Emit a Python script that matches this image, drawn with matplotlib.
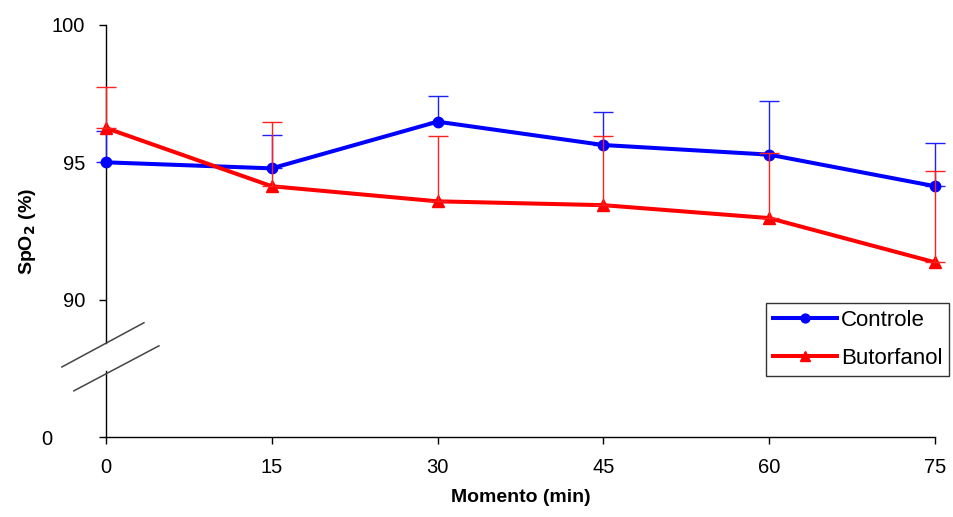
import matplotlib
matplotlib.use("Agg")
import matplotlib.pyplot as plt
import numpy as np

plt.rcParams['font.family'] = ['Liberation Sans', 'DejaVu Sans']

# data (SpO2 %, mean and upper SD)
momento = [0, 15, 30, 45, 60, 75]
controle = [95.0, 94.78, 96.48, 95.63, 95.28, 94.13]
controle_dp = [1.15, 1.2, 0.95, 1.2, 1.95, 1.57]
butorfanol = [96.25, 94.13, 93.58, 93.44, 92.97, 91.36]
butorfanol_dp = [1.48, 2.32, 2.39, 2.53, 2.37, 3.31]

ytick_vals = [85, 90, 95, 100]   # 85 is drawn where the broken axis shows 0
ytick_labels = ["", "90", "95", "100"]

fig = plt.figure(figsize=(9.54, 5.17), dpi=100)
ax = fig.add_axes([0.111, 0.1547, 0.869, 0.797])

# Controle
ax.errorbar(momento, controle, yerr=[np.zeros(len(controle_dp)), controle_dp],
            fmt='none', ecolor='#2020ff', elinewidth=1, capsize=7, capthick=1, zorder=2)
ax.plot(momento, controle, color='#0000ff', lw=2.9, marker='o', markersize=7.5,
        label='Controle', zorder=3)

# Butorfanol
ax.plot(momento, butorfanol, color='#ff0000', lw=2.9, marker='^', markersize=8.5,
        label='Butorfanol', zorder=4)
ax.errorbar(momento, butorfanol, yerr=[np.zeros(len(butorfanol_dp)), butorfanol_dp],
            fmt='none', ecolor='#ff2020', elinewidth=1, capsize=7, capthick=1, zorder=5)

for art in ax.lines + ax.collections:
    art.set_clip_on(False)

ax.set_xlim(0, 75)
ax.set_ylim(85, 100)
ax.set_xticks(momento)
ax.set_yticks(ytick_vals)
ax.set_yticklabels(ytick_labels)
ax.tick_params(axis='both', direction='out', length=5, width=1, labelsize=14.5)
ax.tick_params(axis='y', pad=10)
ax.tick_params(axis='x', pad=10)

for s in ['top', 'right', 'left']:
    ax.spines[s].set_visible(False)
ax.spines['bottom'].set_linewidth(1)

# broken y axis
ax.plot([0, 0], [100, 88.43], color='black', lw=1, clip_on=False, zorder=1)
ax.plot([0, 0], [87.4, 85], color='black', lw=1, clip_on=False, zorder=1)
ax.plot([-3.98, 3.44], [87.55, 89.16], color='#444444', lw=1.1, clip_on=False)
ax.plot([-2.9, 4.8], [86.68, 88.32], color='#444444', lw=1.1, clip_on=False)
ax.text(-5.3, 84.9, "0", ha='center', va='center', fontsize=14.5)

ax.set_xlabel('Momento (min)', fontsize=14, fontweight='bold', labelpad=9)
ax.set_ylabel(r'SpO$_\mathbf{2}$ (%)', fontsize=14, fontweight='bold', labelpad=10)

leg = ax.legend(loc='upper left', bbox_to_anchor=(0.796, 0.325), fontsize=16,
                frameon=True, fancybox=False, edgecolor='black', handlelength=2.9,
                borderpad=0.32, labelspacing=0.75, handletextpad=0.15, borderaxespad=0,
                markerscale=0.85)
leg.get_frame().set_linewidth(1)
leg.set_clip_on(False)

fig.savefig('out.png', dpi=100)
